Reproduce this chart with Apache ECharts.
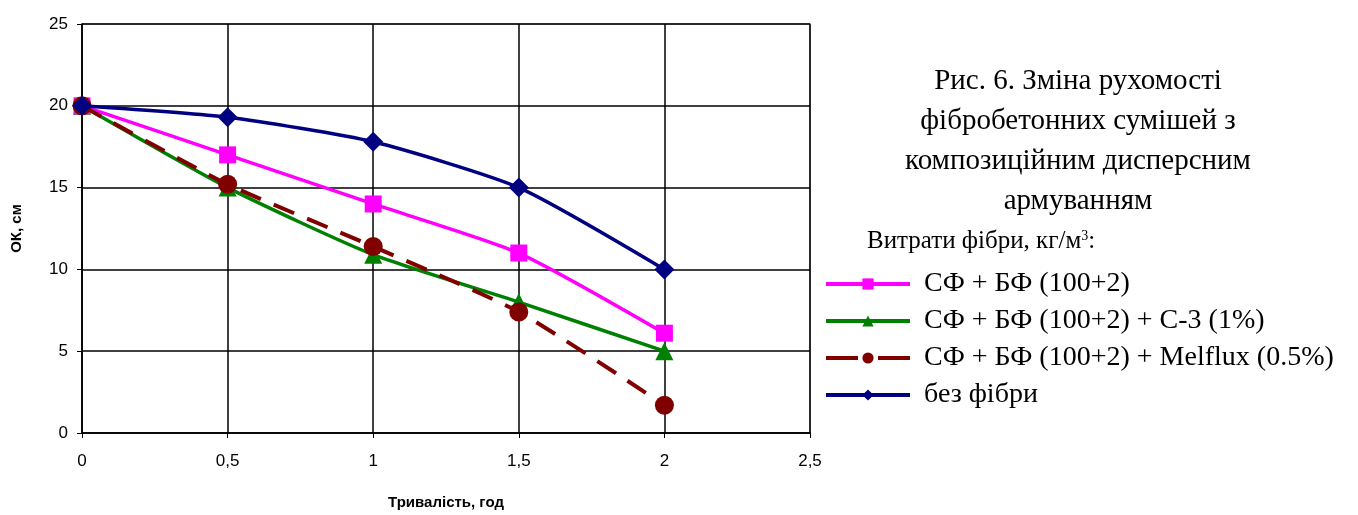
<!DOCTYPE html>
<html lang="uk" style="height: 100%">
<head>
  <meta charset="utf-8" />
  <title>Рис. 6</title>
</head>
<body style="height: 100%; margin: 0">
  <div id="container" style="width: 1358px; height: 515px"></div>

  <script type="text/javascript" src="https://fastly.jsdelivr.net/npm/echarts@6/dist/echarts.min.js"></script>
  <script type="text/javascript">
    // тривалість, год
    var hours = [0, 0.5, 1, 1.5, 2];
    // ОК, см
    var sfBf = [20, 17, 14, 11, 6.1];
    var sfBfC3 = [20, 15, 10.9, 8, 5];
    var sfBfMelflux = [20, 15.2, 11.4, 7.4, 1.7];
    var noFiber = [20, 19.3, 17.8, 15, 10];

    var seriesNames = [
      'СФ + БФ (100+2)',
      'СФ + БФ (100+2) + С-3 (1%)',
      'СФ + БФ (100+2) + Melflux (0.5%)',
      'без фібри'
    ];

    function pairs(ys) {
      return hours.map(function (x, i) { return [x, ys[i]]; });
    }

    var dom = document.getElementById('container');
    var myChart = echarts.init(dom, null, { renderer: 'canvas' });

    var serif = '"Liberation Serif", "DejaVu Serif", serif';
    var sans = '"Liberation Sans", Arial, sans-serif';

    var option = {
      backgroundColor: '#fff',
      animation: false,
      grid: {
        left: 82, right: 548, top: 24, bottom: 81,
        show: true, borderColor: '#888', borderWidth: 1.5
      },
      title: {
        text: 'Рис. 6. Зміна рухомості\nфібробетонних сумішей з\nкомпозиційним дисперсним\nармуванням',
        left: 1073, top: 56, textAlign: 'center',
        textStyle: {
          fontFamily: serif, fontSize: 29, fontWeight: 'normal',
          color: '#000', lineHeight: 40
        }
      },
      graphic: [{
        type: 'text', left: 867, top: 229,
        style: {
          text: '{t|Витрати фібри, кг/м}{s|3}{t|:}',
          rich: {
            t: { fontFamily: serif, fontSize: 25, color: '#000', verticalAlign: 'bottom' },
            s: { fontFamily: serif, fontSize: 14, color: '#000', verticalAlign: 'top' }
          }
        }
      }],
      legend: {
        orient: 'vertical', left: 824, top: 270, padding: 0,
        itemWidth: 84, itemHeight: 14, itemGap: 9,
        lineStyle: { width: 4 },
        textStyle: {
          fontFamily: serif, fontSize: 28, lineHeight: 27, color: '#000',
          padding: [0, 0, 0, 9]
        },
        data: [
          { name: seriesNames[0] },
          { name: seriesNames[1] },
          { name: seriesNames[2], lineStyle: { type: [32, 20], width: 4 } },
          { name: seriesNames[3] }
        ]
      },
      xAxis: {
        type: 'value', min: 0, max: 2.5, interval: 0.5,
        name: 'Тривалість, год', nameLocation: 'middle', nameGap: 62,
        nameTextStyle: { fontFamily: sans, fontSize: 15, fontWeight: 'bold', color: '#000' },
        axisLine: { lineStyle: { color: '#000', width: 1.5 } },
        axisTick: { show: true, length: 5, lineStyle: { color: '#000' } },
        axisLabel: {
          fontFamily: sans, fontSize: 17, color: '#000', margin: 20,
          formatter: function (v) { return String(v).replace('.', ','); }
        },
        splitLine: { show: true, lineStyle: { color: '#000', width: 1.5 } }
      },
      yAxis: {
        type: 'value', min: 0, max: 25, interval: 5,
        name: 'ОК, см', nameLocation: 'middle', nameGap: 58, nameRotate: 90,
        nameTextStyle: { fontFamily: sans, fontSize: 15, fontWeight: 'bold', color: '#000' },
        axisLine: { show: true, lineStyle: { color: '#000', width: 1.5 } },
        axisTick: { show: true, length: 5, lineStyle: { color: '#000' } },
        axisLabel: { fontFamily: sans, fontSize: 17, color: '#000', margin: 14 },
        splitLine: { show: true, lineStyle: { color: '#000', width: 1.5 } }
      },
      series: [
        {
          name: seriesNames[0], type: 'line', smooth: 0.2, data: pairs(sfBf),
          symbol: 'rect', symbolSize: 17, z: 3,
          itemStyle: { color: '#ff00ff' }, lineStyle: { color: '#ff00ff', width: 3.5 }
        },
        {
          name: seriesNames[1], type: 'line', smooth: 0.2, data: pairs(sfBfC3),
          symbol: 'triangle', symbolSize: 18, z: 2,
          itemStyle: { color: '#008000' }, lineStyle: { color: '#008000', width: 3.5 }
        },
        {
          name: seriesNames[2], type: 'line', smooth: 0.2, data: pairs(sfBfMelflux),
          symbol: 'circle', symbolSize: 19, z: 4,
          itemStyle: { color: '#800000' },
          lineStyle: { color: '#800000', width: 4, type: [22, 14] }
        },
        {
          name: seriesNames[3], type: 'line', smooth: 0.2, data: pairs(noFiber),
          symbol: 'diamond', symbolSize: 20, z: 5,
          itemStyle: { color: '#000080' }, lineStyle: { color: '#000080', width: 3.5 }
        }
      ]
    };

    myChart.setOption(option);
    window.addEventListener('resize', myChart.resize);
  </script>
</body>
</html>
